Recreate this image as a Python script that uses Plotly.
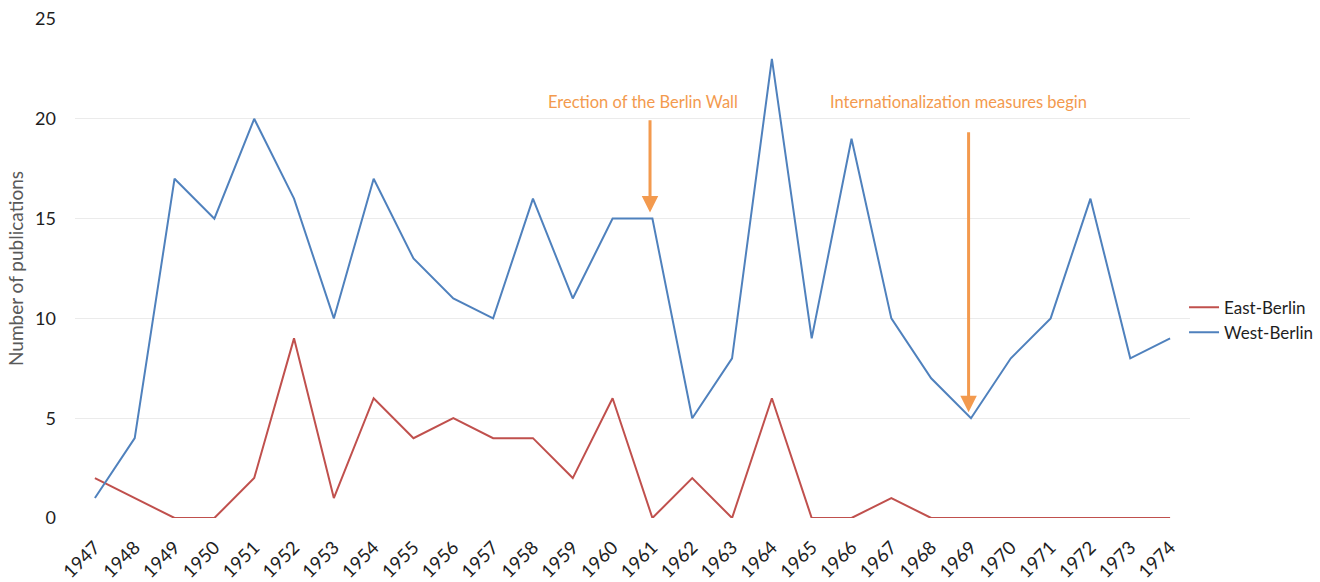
import plotly.graph_objects as go

years = list(range(1947, 1975))
west_berlin = [1, 4, 17, 15, 20, 16, 10, 17, 13, 11, 10, 16, 11, 15, 15,
               5, 8, 23, 9, 19, 10, 7, 5, 8, 10, 16, 8, 9]
east_berlin = [2, 1, 0, 0, 2, 9, 1, 6, 4, 5, 4, 4, 2, 6, 0,
               2, 0, 6, 0, 0, 1, 0, 0, 0, 0, 0, 0, 0]
y_ticks = [0, 5, 10, 15, 20, 25]

FONT = "Lato, 'Open Sans', sans-serif"
ORANGE = "#F39A4E"
TEXT = "#1E1E1E"

fig = go.Figure()
fig.add_trace(go.Scatter(x=years, y=east_berlin, mode="lines", name="East-Berlin",
                         line=dict(color="#C0504D", width=2)))
fig.add_trace(go.Scatter(x=years, y=west_berlin, mode="lines", name="West-Berlin",
                         line=dict(color="#4F81BD", width=2)))

# event markers: arrow pointing down at the year, label above
events = [
    dict(year=1961, text="Erection of the Berlin Wall", tail=20.0, tip=15.3,
         arrow_dx=-0.06, text_dx=-0.245),
    dict(year=1969, text="Internationalization measures begin", tail=19.4, tip=5.3,
         arrow_dx=-0.06, text_dx=-0.31),
]
for ev in events:
    ax_x = ev["year"] + ev["arrow_dx"]
    fig.add_annotation(x=ax_x, y=ev["tip"], ax=ax_x, ay=ev["tail"],
                       xref="x", yref="y", axref="x", ayref="y",
                       showarrow=True, arrowhead=2, arrowsize=1.1, arrowwidth=3,
                       arrowcolor=ORANGE, text="")
    fig.add_annotation(x=ev["year"] + ev["text_dx"], y=20.85, xref="x", yref="y",
                       text=ev["text"], showarrow=False,
                       font=dict(family=FONT, size=16.5, color=ORANGE))

fig.update_layout(
    width=1320, height=582,
    margin=dict(l=75, r=130, t=19, b=64, autoexpand=False),
    plot_bgcolor="white", paper_bgcolor="white",
    font=dict(family=FONT),
    legend=dict(xref="container", yref="container", x=0.897, y=0.45,
                xanchor="left", yanchor="middle",
                font=dict(size=17, color=TEXT), bgcolor="rgba(0,0,0,0)",
                itemwidth=30, tracegroupgap=0),
    xaxis=dict(range=[1946.5, 1974.5], tickmode="array", tickvals=years,
               ticktext=[str(y) for y in years], tickangle=-45,
               showgrid=False, zeroline=False, showline=False,
               ticklabelstandoff=14,
               tickfont=dict(size=18.5, color=TEXT)),
    yaxis=dict(range=[0, 25], tickvals=y_ticks, showgrid=True,
               gridcolor="#EBEBEB", gridwidth=1, zeroline=False,
               tickfont=dict(size=18, color=TEXT), ticklabelstandoff=18,
               title=dict(text="Number of publications", standoff=6,
                          font=dict(size=19, color="#595959"))),
)

fig.write_html("out.html")
